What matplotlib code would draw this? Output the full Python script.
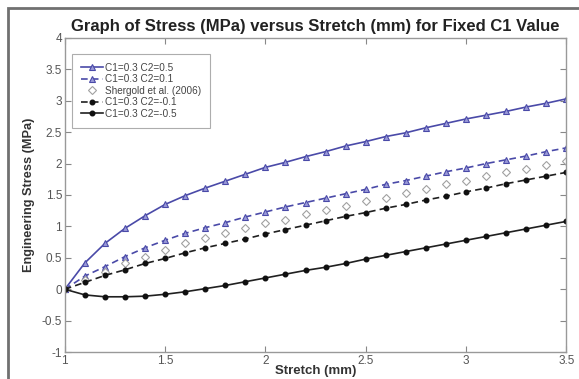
import matplotlib
matplotlib.use('Agg')
import matplotlib.pyplot as plt
from matplotlib.patches import Rectangle
import numpy as np

plt.rcParams['font.family'] = ['Liberation Sans', 'DejaVu Sans']

# Stretch values (mm)
stretch = [1.0, 1.1, 1.2, 1.3, 1.4, 1.5, 1.6, 1.7, 1.8, 1.9, 2.0, 2.1, 2.2,
           2.3, 2.4, 2.5, 2.6, 2.7, 2.8, 2.9, 3.0, 3.1, 3.2, 3.3, 3.4, 3.5]

# Engineering stress (MPa)
c2_pos05 = [0.00, 0.42, 0.73, 0.97, 1.17, 1.35, 1.49, 1.61, 1.72, 1.83, 1.94, 2.02, 2.11,
            2.19, 2.28, 2.35, 2.43, 2.49, 2.57, 2.64, 2.71, 2.77, 2.83, 2.90, 2.96, 3.03]
c2_pos01 = [0.00, 0.21, 0.36, 0.52, 0.66, 0.78, 0.89, 0.98, 1.06, 1.15, 1.23, 1.31, 1.38,
            1.45, 1.52, 1.59, 1.67, 1.73, 1.80, 1.87, 1.93, 2.00, 2.06, 2.12, 2.19, 2.25]
shergold = [0.00, 0.15, 0.27, 0.41, 0.52, 0.63, 0.73, 0.81, 0.90, 0.97, 1.05, 1.11, 1.19,
            1.26, 1.33, 1.40, 1.46, 1.53, 1.60, 1.67, 1.73, 1.80, 1.86, 1.92, 1.98, 2.04]
c2_neg01 = [0.00, 0.11, 0.22, 0.31, 0.41, 0.49, 0.58, 0.66, 0.73, 0.80, 0.88, 0.95, 1.02,
            1.09, 1.16, 1.22, 1.29, 1.35, 1.42, 1.48, 1.55, 1.61, 1.68, 1.74, 1.80, 1.86]
c2_neg05 = [0.00, -0.09, -0.12, -0.12, -0.11, -0.08, -0.04, 0.01, 0.06, 0.12, 0.18, 0.24, 0.30,
            0.35, 0.41, 0.48, 0.54, 0.60, 0.66, 0.72, 0.78, 0.84, 0.90, 0.96, 1.02, 1.08]

fig = plt.figure(figsize=(5.79, 3.79), dpi=100)
ax = fig.add_axes([0.112, 0.071, 0.866, 0.829])

# outer gray frame like the original screenshot
fig.patches.append(Rectangle((0.014, -0.01), 1.2, 0.99, transform=fig.transFigure,
                             fill=False, edgecolor='#707070', linewidth=2.0))

blue = '#4a4aa8'
tri_face = '#9a9ad8'

ax.plot(stretch, c2_pos05, '-', color=blue, lw=1.2, marker='^', ms=4.5,
        mfc=tri_face, mec=blue, mew=0.8, label='C1=0.3 C2=0.5')
ax.plot(stretch, c2_pos01, '--', color=blue, lw=1.2, marker='^', ms=4.5,
        mfc=tri_face, mec=blue, mew=0.8, label='C1=0.3 C2=0.1', dashes=(4, 2.5))
ax.plot(stretch, shergold, linestyle='none', marker='D', ms=3.8, mfc='white',
        mec='#a0a0a0', mew=0.8, label='Shergold et al. (2006)')
ax.plot(stretch, c2_neg01, '--', color='#202020', lw=1.2, marker='o', ms=3.3,
        mfc='#101010', mec='#101010', label='C1=0.3 C2=-0.1', dashes=(4, 2.5))
ax.plot(stretch, c2_neg05, '-', color='#202020', lw=1.2, marker='o', ms=3.3,
        mfc='#101010', mec='#101010', label='C1=0.3 C2=-0.5')

ax.set_xlim(1, 3.5)
ax.set_ylim(-1, 4)
ax.set_xticks([1, 1.5, 2, 2.5, 3, 3.5])
ax.set_xticklabels(['1', '1.5', '2', '2.5', '3', '3.5'])
ax.set_yticks([-1, -0.5, 0, 0.5, 1, 1.5, 2, 2.5, 3, 3.5, 4])
ax.set_yticklabels(['-1', '-0.5', '0', '0.5', '1', '1.5', '2', '2.5', '3', '3.5', '4'])
ax.tick_params(direction='in', top=True, right=True, labelsize=8.5,
               labelcolor='#555555', color='#888888', length=4, pad=2)
for s in ax.spines.values():
    s.set_color('#999999')
    s.set_linewidth(1.0)

ax.set_title('Graph of Stress (MPa) versus Stretch (mm) for Fixed C1 Value',
             fontsize=12, fontweight='bold', color='#222222', pad=5)
ax.set_xlabel('Stretch (mm)', fontsize=9.5, fontweight='bold', color='#333333', labelpad=-1)
ax.set_ylabel('Engineering Stress (MPa)', fontsize=9.2, fontweight='bold', color='#333333',
              labelpad=5)

leg = ax.legend(loc='upper left', bbox_to_anchor=(0.005, 0.965), fontsize=7.2,
                frameon=True, fancybox=False, borderpad=0.9, labelspacing=0.15,
                handlelength=2.2, handletextpad=0.2, borderaxespad=0.5)
leg.get_frame().set_edgecolor('#999999')
leg.get_frame().set_linewidth(0.8)
for t in leg.get_texts():
    t.set_color('#444444')

plt.savefig('out.png', dpi=100)
